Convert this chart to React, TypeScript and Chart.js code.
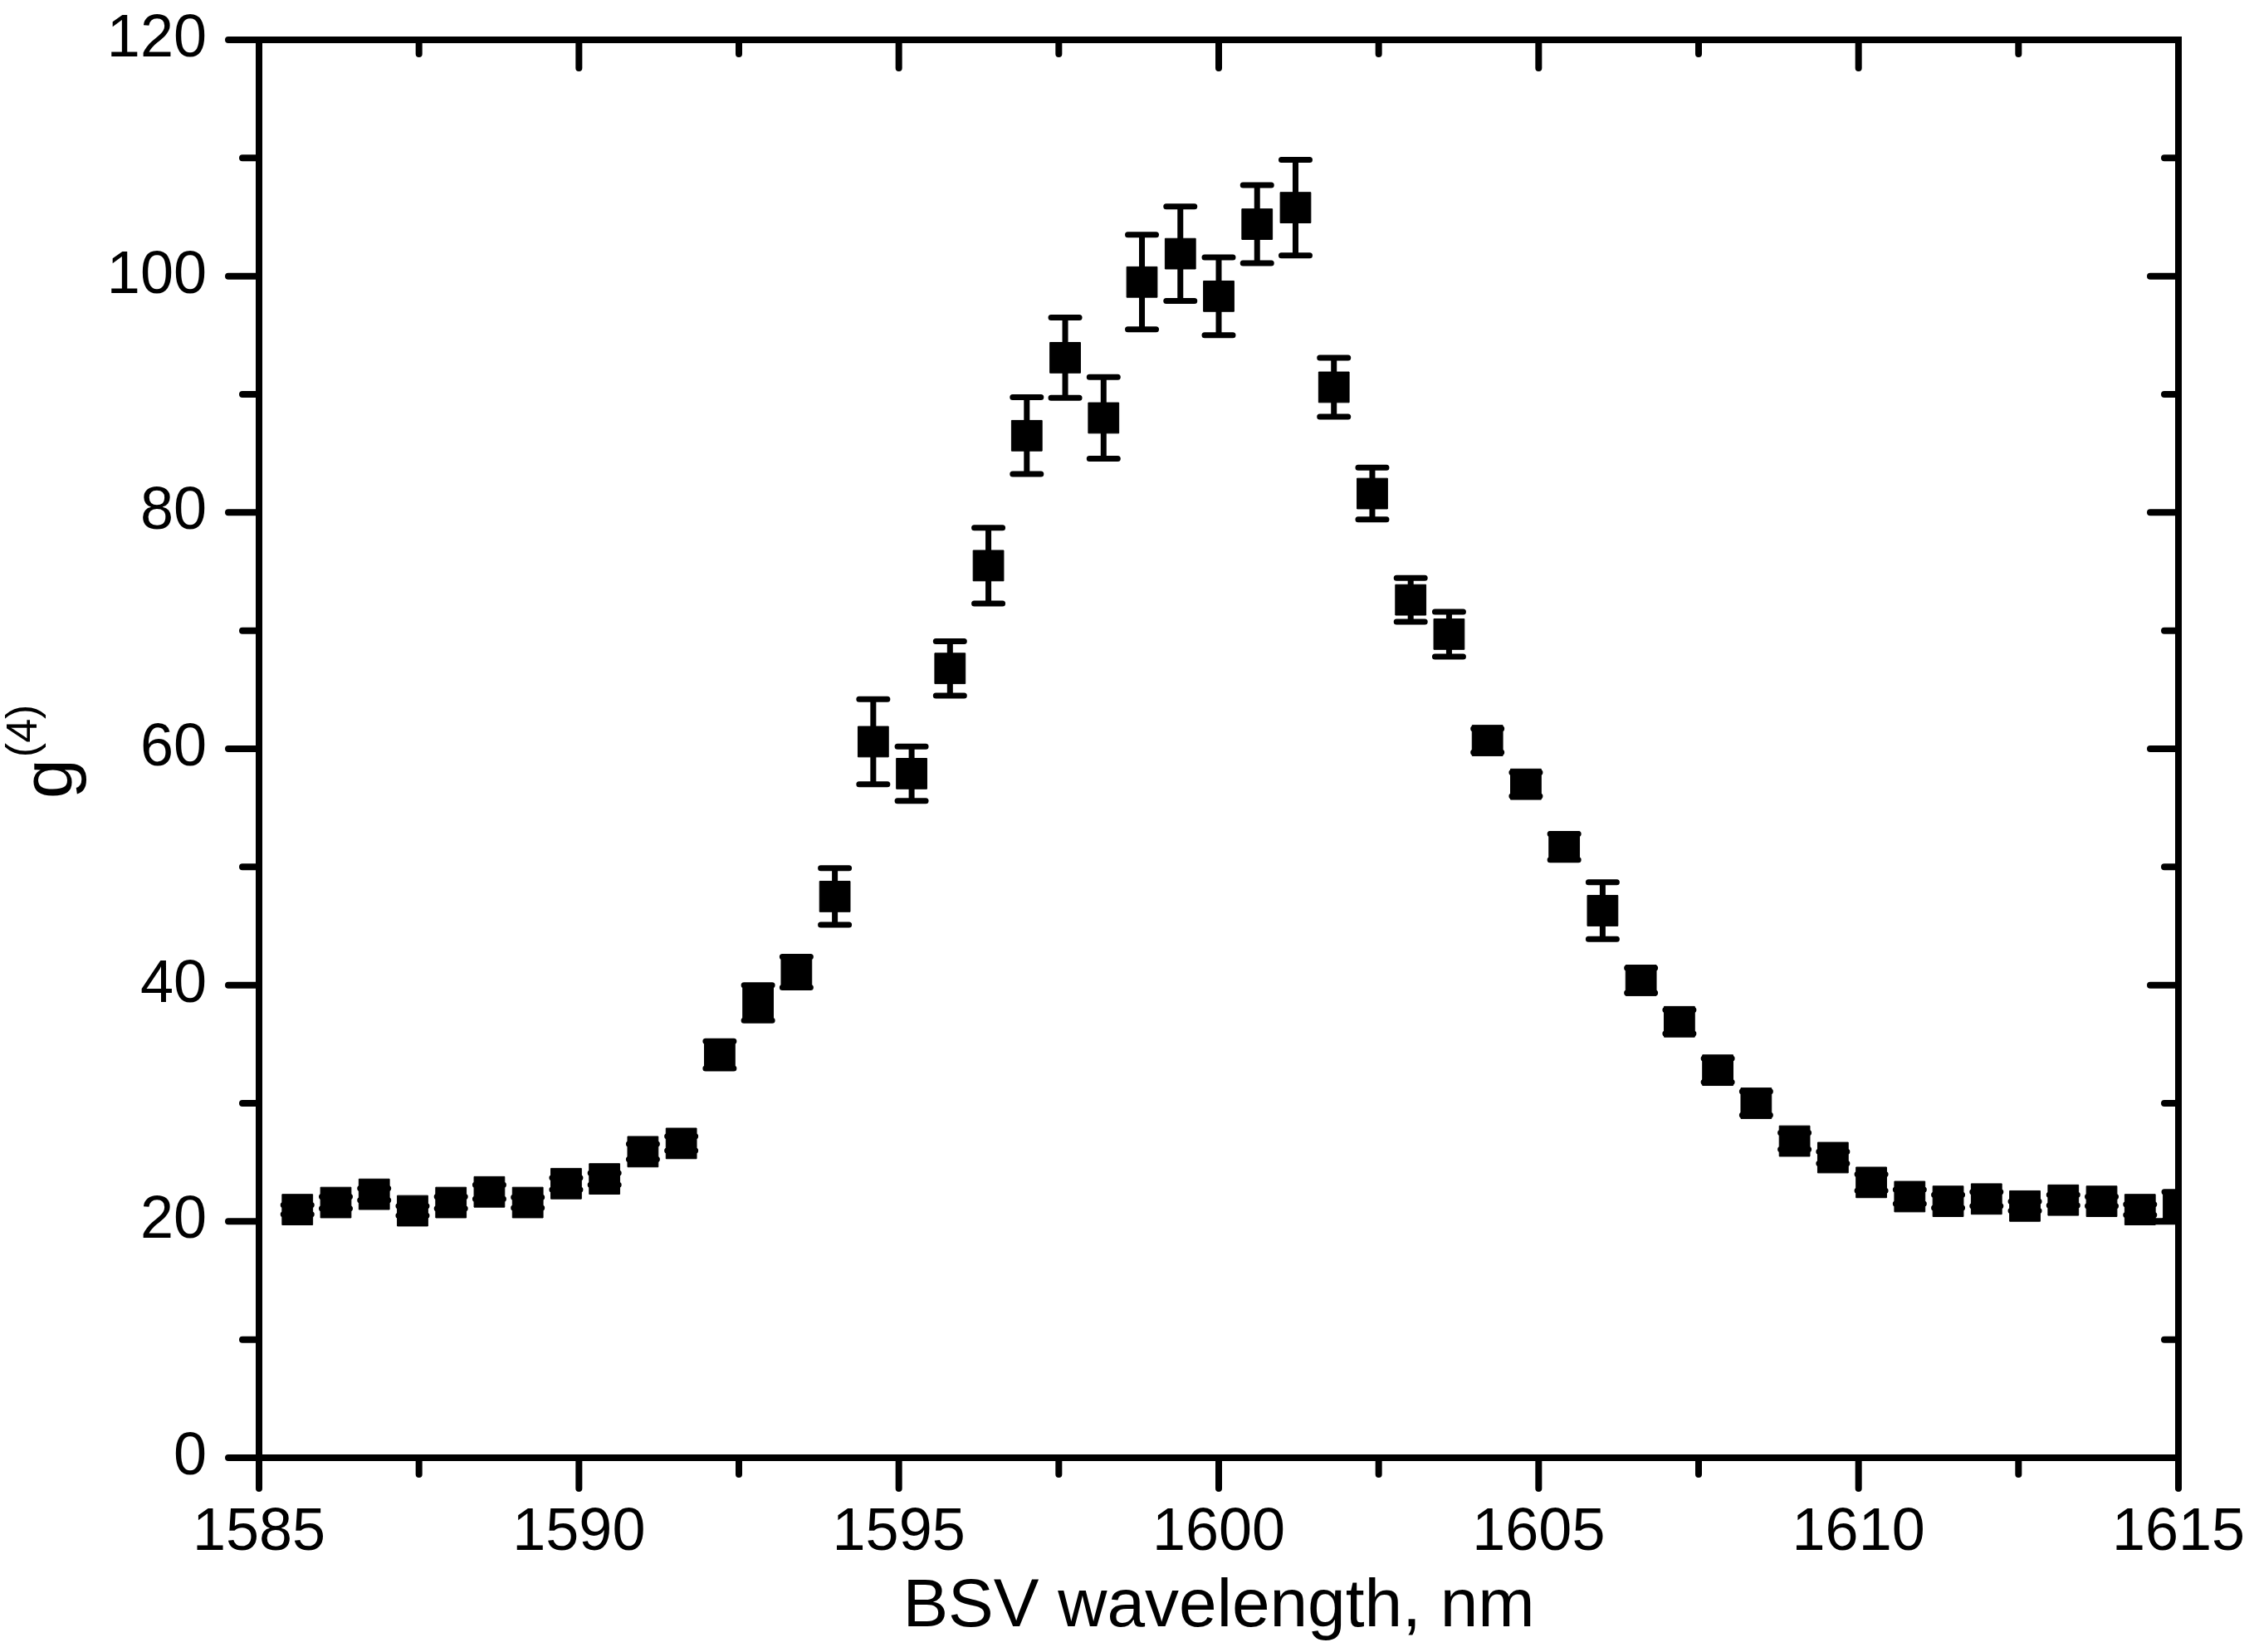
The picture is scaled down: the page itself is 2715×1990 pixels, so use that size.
import React, { useRef, useEffect } from 'react';
import { Chart, registerables } from 'chart.js';

Chart.register(...registerables);

// wavelength of each measured point, nm
const wavelengths = [
  1585.6, 1586.2, 1586.8, 1587.4, 1588.0, 1588.6, 1589.2, 1589.8, 1590.4, 1591.0,
  1591.6, 1592.2, 1592.8, 1593.4, 1594.0, 1594.6, 1595.2, 1595.8, 1596.4, 1597.0,
  1597.6, 1598.2, 1598.8, 1599.4, 1600.0, 1600.6, 1601.2, 1601.8, 1602.4, 1603.0,
  1603.6, 1604.2, 1604.8, 1605.4, 1606.0, 1606.6, 1607.2, 1607.8, 1608.4, 1609.0,
  1609.6, 1610.2, 1610.8, 1611.4, 1612.0, 1612.6, 1613.2, 1613.8, 1614.4, 1615.0,
];

// g(4) values
const g4 = [
  21.0, 21.6, 22.3, 20.9, 21.6, 22.5, 21.6, 23.2, 23.6, 25.9,
  26.6, 34.1, 38.5, 41.1, 47.5, 60.6, 57.9, 66.8, 75.5, 86.5,
  93.1, 88.0, 99.5, 101.9, 98.3, 104.4, 105.8, 90.6, 81.6, 72.6,
  69.7, 60.7, 57.0, 51.7, 46.3, 40.4, 36.9, 32.8, 30.0, 26.8,
  25.4, 23.3, 22.1, 21.7, 21.9, 21.3, 21.8, 21.7, 21.0, 21.3,
];

// symmetric error bars
const g4Err = [
  0.4, 0.5, 0.5, 0.4, 0.5, 0.6, 0.45, 0.5, 0.5, 0.65,
  0.6, 1.15, 1.5, 1.3, 2.4, 3.6, 2.3, 2.3, 3.2, 3.25,
  3.4, 3.45, 4.0, 4.0, 3.3, 3.3, 4.05, 2.5, 2.2, 1.85,
  1.9, 1.0, 1.0, 1.1, 2.4, 1.05, 1.0, 1.0, 1.0, 0.7,
  0.5, 0.7, 0.6, 0.55, 0.6, 0.4, 0.45, 0.4, 0.45, 1.2,
];

const xMajorTicks = [1585, 1590, 1595, 1600, 1605, 1610, 1615];
const xMinorTicks = [1587.5, 1592.5, 1597.5, 1602.5, 1607.5, 1612.5];
const yMajorTicks = [0, 20, 40, 60, 80, 100, 120];
const yMinorTicks = [10, 30, 50, 70, 90, 110];

const FONT = '"Liberation Sans", Arial, sans-serif';

const errorBars = {
  id: 'errorBars',
  beforeDatasetsDraw(chart: any) {
    const { ctx, chartArea, scales } = chart;
    ctx.save();
    ctx.beginPath();
    ctx.rect(chartArea.left, chartArea.top, chartArea.right - chartArea.left, chartArea.bottom - chartArea.top);
    ctx.clip();
    ctx.strokeStyle = '#000';
    ctx.lineWidth = 7;
    ctx.lineCap = 'round';
    const capHalf = 17;
    wavelengths.forEach((w, i) => {
      const x = scales.x.getPixelForValue(w);
      const yTop = scales.y.getPixelForValue(g4[i] + g4Err[i]);
      const yBot = scales.y.getPixelForValue(g4[i] - g4Err[i]);
      ctx.beginPath();
      ctx.moveTo(x, yTop);
      ctx.lineTo(x, yBot);
      ctx.moveTo(x - capHalf, yTop);
      ctx.lineTo(x + capHalf, yTop);
      ctx.moveTo(x - capHalf, yBot);
      ctx.lineTo(x + capHalf, yBot);
      ctx.stroke();
    });
    ctx.restore();
  },
};

const frameAndTicks = {
  id: 'frameAndTicks',
  afterDatasetsDraw(chart: any) {
    const { ctx, chartArea, scales } = chart;
    const { left, right, top, bottom } = chartArea;
    const major = 37;
    const minor = 20;
    const inMajor = 34;
    const inMinor = 17;
    ctx.save();
    ctx.strokeStyle = '#000';
    ctx.lineWidth = 8;
    ctx.lineCap = 'round';
    ctx.beginPath();
    xMajorTicks.forEach((v) => {
      const x = scales.x.getPixelForValue(v);
      ctx.moveTo(x, bottom);
      ctx.lineTo(x, bottom + major);
      ctx.moveTo(x, top);
      ctx.lineTo(x, top + inMajor);
    });
    xMinorTicks.forEach((v) => {
      const x = scales.x.getPixelForValue(v);
      ctx.moveTo(x, bottom);
      ctx.lineTo(x, bottom + minor);
      ctx.moveTo(x, top);
      ctx.lineTo(x, top + inMinor);
    });
    yMajorTicks.forEach((v) => {
      const y = scales.y.getPixelForValue(v);
      ctx.moveTo(left, y);
      ctx.lineTo(left - major, y);
      ctx.moveTo(right, y);
      ctx.lineTo(right - inMajor, y);
    });
    yMinorTicks.forEach((v) => {
      const y = scales.y.getPixelForValue(v);
      ctx.moveTo(left, y);
      ctx.lineTo(left - minor, y);
      ctx.moveTo(right, y);
      ctx.lineTo(right - inMinor, y);
    });
    ctx.stroke();
    ctx.lineCap = 'square';
    ctx.lineWidth = 8;
    ctx.strokeRect(left, top, right - left, bottom - top);
    ctx.restore();
  },
};

const yTitle = {
  id: 'yTitle',
  afterDraw(chart: any) {
    const { ctx } = chart;
    ctx.save();
    ctx.fillStyle = '#000';
    ctx.translate(86, 962);
    ctx.rotate(-Math.PI / 2);
    ctx.textBaseline = 'alphabetic';
    ctx.textAlign = 'left';
    ctx.font = `86px ${FONT}`;
    ctx.fillText('g', 0, 0);
    const gw = ctx.measureText('g').width;
    ctx.font = `52px ${FONT}`;
    ctx.fillText('(4)', gw + 2, -42);
    ctx.restore();
  },
};

const G4Chart: React.FC = () => {
  const chartRef = useRef<HTMLCanvasElement | null>(null);
  const chartInstanceRef = useRef<Chart | null>(null);

  useEffect(() => {
    if (!chartRef.current) return;
    if (chartInstanceRef.current) {
      chartInstanceRef.current.destroy();
      chartInstanceRef.current = null;
    }
    const points = wavelengths.map((w, i) => ({ x: w, y: g4[i] }));
    const chart = new Chart(chartRef.current, {
      type: 'scatter',
      data: {
        datasets: [{
          label: 'g4',
          data: points,
          pointStyle: 'rect',
          pointRadius: 26,
          pointHoverRadius: 26,
          backgroundColor: '#000',
          borderColor: '#000',
          borderWidth: 1,
          showLine: false,
          clip: 0,
        }],
      },
      options: {
        responsive: false,
        animation: false,
        devicePixelRatio: 1,
        layout: { padding: { top: 48, right: 91, left: 0, bottom: 0 } },
        plugins: {
          legend: { display: false },
          tooltip: { enabled: false },
        },
        scales: {
          x: {
            type: 'linear',
            min: 1585,
            max: 1615,
            // tick marks are drawn by the plugin; tickLength only reserves room
            grid: { display: false, drawTicks: true, tickLength: 48 },
            border: { display: false },
            ticks: {
              stepSize: 5,
              color: '#000',
              padding: 0,
              maxRotation: 0,
              autoSkip: false,
              font: { family: FONT, size: 72 },
              callback: (v: any) => String(v),
            },
            title: {
              display: true,
              text: 'BSV wavelength, nm',
              color: '#000',
              padding: { top: 0, bottom: 4 },
              font: { family: FONT, size: 82 },
            },
            afterFit: (s: any) => { s.height = 234; },
          },
          y: {
            min: 0,
            max: 120,
            grid: { display: false, drawTicks: true, tickLength: 63 },
            border: { display: false },
            ticks: {
              stepSize: 20,
              color: '#000',
              padding: 0,
              font: { family: FONT, size: 72 },
              callback: (v: any) => String(v),
            },
            afterFit: (s: any) => { s.width = 312; },
          },
        },
      } as any,
      plugins: [errorBars, frameAndTicks, yTitle],
    });
    chartInstanceRef.current = chart;

    return () => {
      if (chartInstanceRef.current !== null) {
        chartInstanceRef.current.destroy();
        chartInstanceRef.current = null;
      }
    };
  }, []);

  return (
    <div style={{ position: 'fixed', left: 0, top: 0, width: 2715, height: 1990, background: '#fff' }}>
      <canvas ref={chartRef} width={2715} height={1990} style={{ width: 2715, height: 1990, display: 'block' }}></canvas>
    </div>
  );
};

export default function App() {
  return <G4Chart />;
}
